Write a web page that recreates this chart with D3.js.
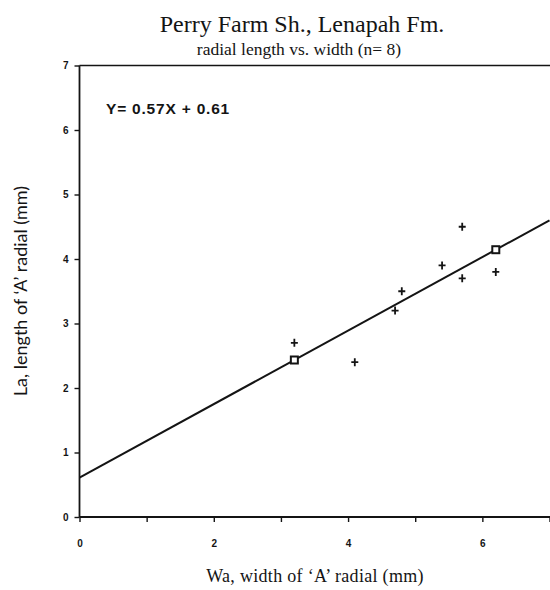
<!DOCTYPE html>
<html>
<head>
<meta charset="utf-8">
<script src="https://cdn.jsdelivr.net/npm/d3@7"></script>
<style>
  html, body { margin: 0; padding: 0; background: #fff; }
  svg { display: block; }
</style>
</head>
<body>
<div id="chart"></div>
<script>
// Radial length (La) vs. radial width (Wa), Perry Farm Shale specimens
const widthValues  = [3.2, 4.1, 4.7, 4.8, 5.4, 5.7, 5.7, 6.2];
const lengthValues = [2.7, 2.4, 3.2, 3.5, 3.9, 4.5, 3.7, 3.8];

// Least-squares fit as printed on the chart
const slope = 0.57;
const intercept = 0.61;
// Fit-line marker positions (ends of the observed width range)
const fitMarkerX = [3.2, 6.2];

const xTicks = [0, 1, 2, 3, 4, 5, 6, 7];
const xTickLabels = ["0", "", "2", "", "4", "", "6", ""];
const yTicks = [0, 1, 2, 3, 4, 5, 6, 7];

const W = 550, H = 590;
const svg = d3.select("#chart").append("svg")
  .attr("width", W).attr("height", H);

const x = d3.scaleLinear().domain([0, 7]).range([79.5, 549.5]);
const y = d3.scaleLinear().domain([0, 7]).range([517, 65.5]);

const ink = "#141414";
const serif = "'Liberation Serif', 'Times New Roman', serif";
const sans = "'Liberation Sans', Arial, sans-serif";

// Titles
svg.append("text")
  .attr("x", 302).attr("y", 32)
  .attr("text-anchor", "middle")
  .style("font-family", serif)
  .style("font-size", "24px")
  .attr("fill", ink)
  .text("Perry Farm Sh., Lenapah Fm.");

svg.append("text")
  .attr("x", 299).attr("y", 55)
  .attr("text-anchor", "middle")
  .style("font-family", serif)
  .style("font-size", "17.5px")
  .attr("fill", ink)
  .text("radial length vs. width (n= 8)");

// Top frame line
svg.append("line")
  .attr("x1", x(0)).attr("x2", W)
  .attr("y1", y(7)).attr("y2", y(7))
  .attr("stroke", ink).attr("stroke-width", 1.6);

// X axis
const xAxis = d3.axisBottom(x)
  .tickValues(xTicks)
  .tickSize(5)
  .tickPadding(18)
  .tickFormat((d, i) => xTickLabels[i]);

const gx = svg.append("g")
  .attr("transform", `translate(0,${y(0)})`)
  .call(xAxis);
gx.select(".domain").attr("stroke", ink).attr("stroke-width", 1.8)
  .attr("d", `M${x(0)},0H${W}`);
gx.selectAll(".tick line").attr("stroke", ink).attr("stroke-width", 1.4);
gx.selectAll(".tick text")
  .attr("fill", ink)
  .style("font-family", sans)
  .style("font-weight", "bold")
  .style("font-size", "10px");

// Y axis
const yAxis = d3.axisLeft(y)
  .tickValues(yTicks)
  .tickSize(5)
  .tickPadding(6)
  .tickFormat(d3.format("d"));

const gy = svg.append("g")
  .attr("transform", `translate(${x(0)},0)`)
  .call(yAxis);
gy.select(".domain").attr("stroke", ink).attr("stroke-width", 1.8)
  .attr("d", `M0,${y(7)}V${y(0)}`);
gy.selectAll(".tick line").attr("stroke", ink).attr("stroke-width", 1.4);
gy.selectAll(".tick text")
  .attr("fill", ink)
  .style("font-family", sans)
  .style("font-weight", "bold")
  .style("font-size", "10px");

// Axis titles
svg.append("text")
  .attr("x", 315).attr("y", 582)
  .attr("text-anchor", "middle")
  .style("font-family", serif)
  .style("font-size", "18px")
  .style("letter-spacing", "0.3px")
  .attr("fill", ink)
  .text("Wa, width of \u2018A\u2019 radial (mm)");

svg.append("text")
  .attr("transform", `translate(27,${291}) rotate(-90)`)
  .attr("text-anchor", "middle")
  .style("font-family", "Lato, 'Open Sans', sans-serif")
  .style("font-size", "18px")
  .attr("fill", ink)
  .text("La, length of \u2018A\u2019 radial (mm)");

// Regression equation
svg.append("text")
  .attr("x", 106).attr("y", 114)
  .style("font-family", sans)
  .style("font-weight", "bold")
  .style("font-size", "15.5px")
  .style("letter-spacing", "0.8px")
  .attr("fill", ink)
  .text("Y= 0.57X + 0.61");

// Fitted line across the full width domain
const fit = v => slope * v + intercept;
svg.append("line")
  .attr("x1", x(0)).attr("y1", y(fit(0)))
  .attr("x2", x(7)).attr("y2", y(fit(7)))
  .attr("stroke", ink).attr("stroke-width", 2);

// Square markers on the fit line
svg.selectAll("rect.fitmark")
  .data(fitMarkerX)
  .join("rect")
  .attr("class", "fitmark")
  .attr("x", d => x(d) - 3.5)
  .attr("y", d => y(fit(d)) - 3.5)
  .attr("width", 7).attr("height", 7)
  .attr("fill", "#fff")
  .attr("stroke", ink).attr("stroke-width", 2);

// Observations as plus markers
const obs = widthValues.map((w, i) => ({ w, l: lengthValues[i] }));
svg.selectAll("path.obs")
  .data(obs)
  .join("path")
  .attr("class", "obs")
  .attr("transform", d => `translate(${x(d.w)},${y(d.l)})`)
  .attr("d", "M-3.5,0H3.5M0,-4V4")
  .attr("stroke", ink)
  .attr("stroke-width", 1.8)
  .attr("fill", "none");
</script>
</body>
</html>
